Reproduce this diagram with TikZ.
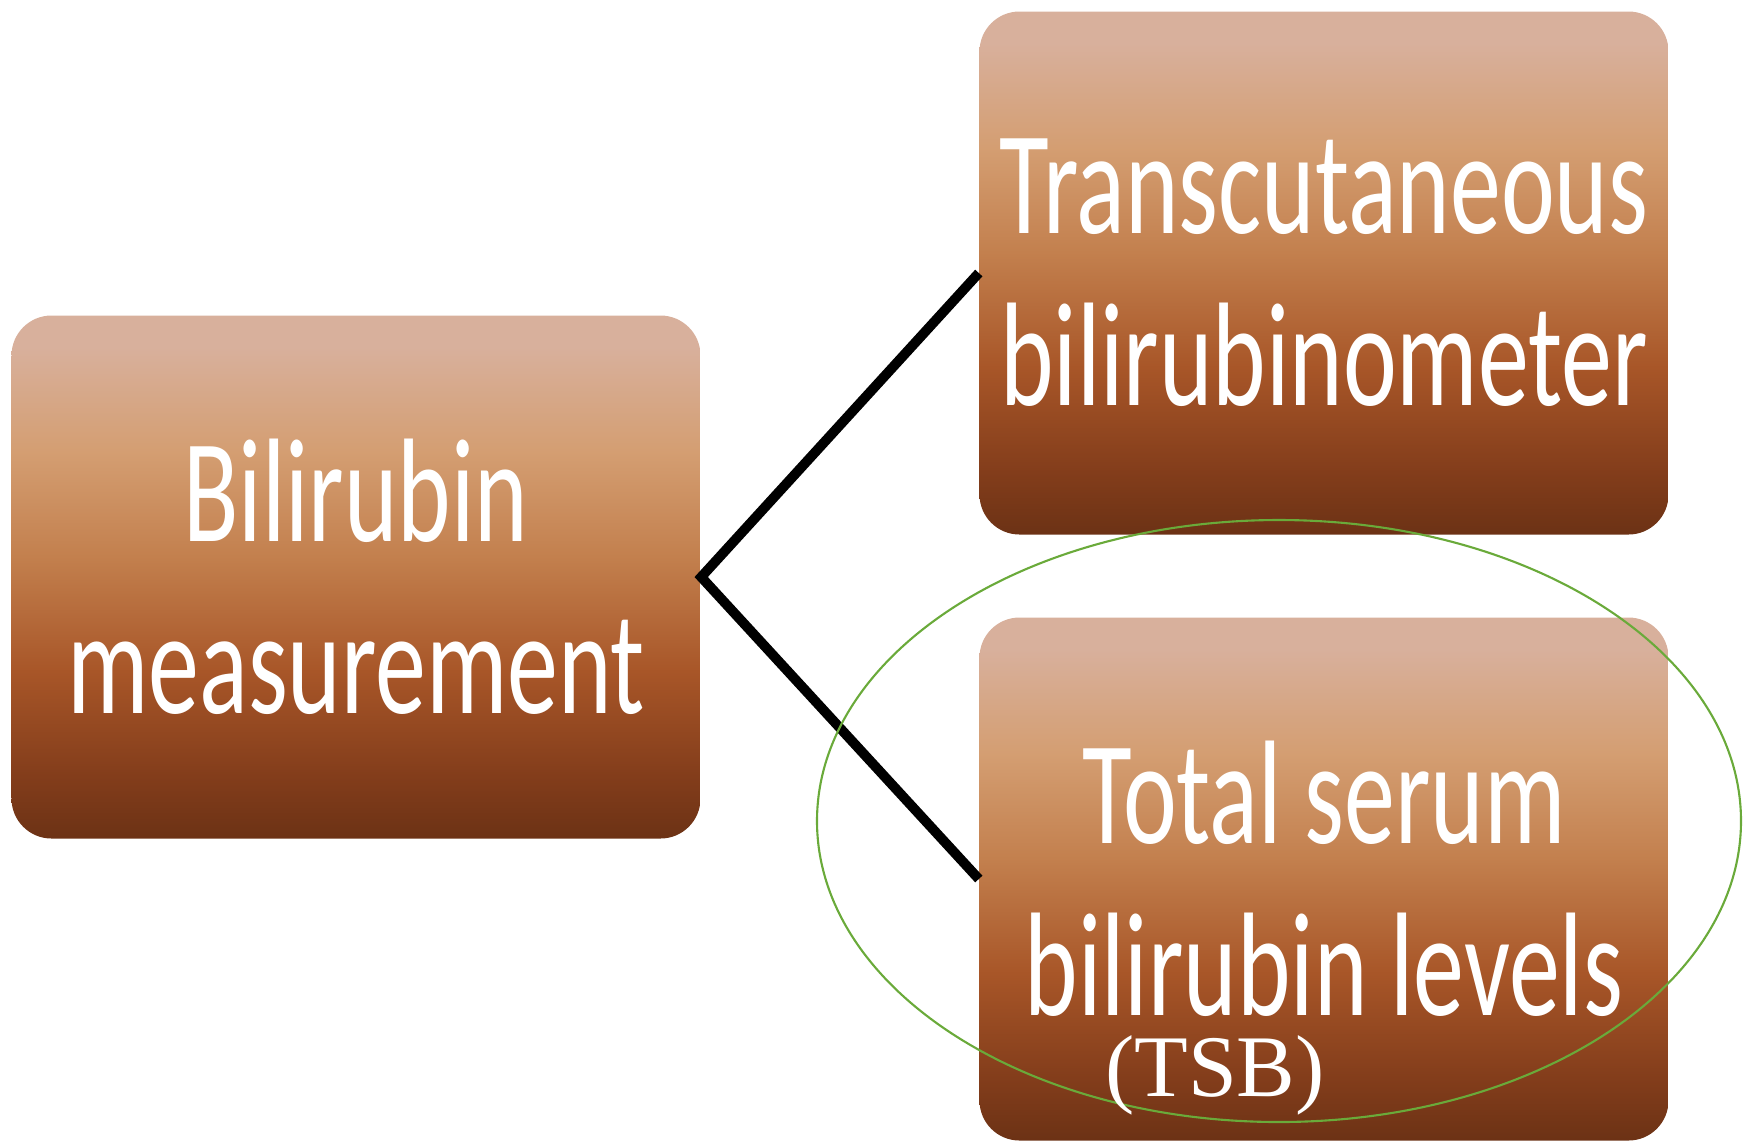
\documentclass[tikz,border=0pt]{standalone}
\usepackage{fontspec}
\usetikzlibrary{shapes,shapes.geometric,positioning}
\newfontfamily\boxfont[FakeStretch=0.69]{Carlito}
\newfontfamily\tsbfont{Liberation Serif}
\definecolor{brownA}{HTML}{D8B09C}
\definecolor{brownB}{HTML}{D49E72}
\definecolor{brownC}{HTML}{C3804E}
\definecolor{brownD}{HTML}{A85628}
\definecolor{brownE}{HTML}{833D1B}
\definecolor{brownF}{HTML}{6C3215}
\definecolor{ringgreen}{HTML}{6AAA3A}
\pgfdeclareverticalshading{brownbar}{100bp}{color(0bp)=(brownF); color(25bp)=(brownF); color(31bp)=(brownE); color(41bp)=(brownD); color(52bp)=(brownC); color(62bp)=(brownB); color(72bp)=(brownA); color(100bp)=(brownA)}

\begin{document}
\begin{tikzpicture}[
    brownbox/.style={rounded corners=0.4cm, shading=brownbar, minimum width=6.89cm, minimum height=5.23cm, align=center, text=white, font=\boxfont\fontsize{42}{49}\selectfont},
    link/.style={line width=2.8pt, black}]
\useasboundingbox (0,0) rectangle (17.52,-11.42);
% Boxes
\node[brownbox] (Bm) at (3.56,-5.77) {Bilirubin\\measurement};
\node[brownbox] (Tc) at (13.24,-2.73) {Transcutaneous\\bilirubinometer};
\node[brownbox] (Ts) at (13.24,-8.79) {Total serum\\bilirubin levels};
% Connectors
\draw[link] (Tc.west) -- (Bm.east) -- (Ts.west);
% Ring and label
\node[ellipse, draw=ringgreen, line width=0.6pt, minimum width=9.24cm, minimum height=6.02cm] (Ov) at (12.79,-8.21) {};
\node[anchor=base, inner sep=0pt, text=white, font=\tsbfont\fontsize{25}{28}\selectfont] (Lb) at (12.15,-10.96) {(TSB)};
\end{tikzpicture}
\end{document}
